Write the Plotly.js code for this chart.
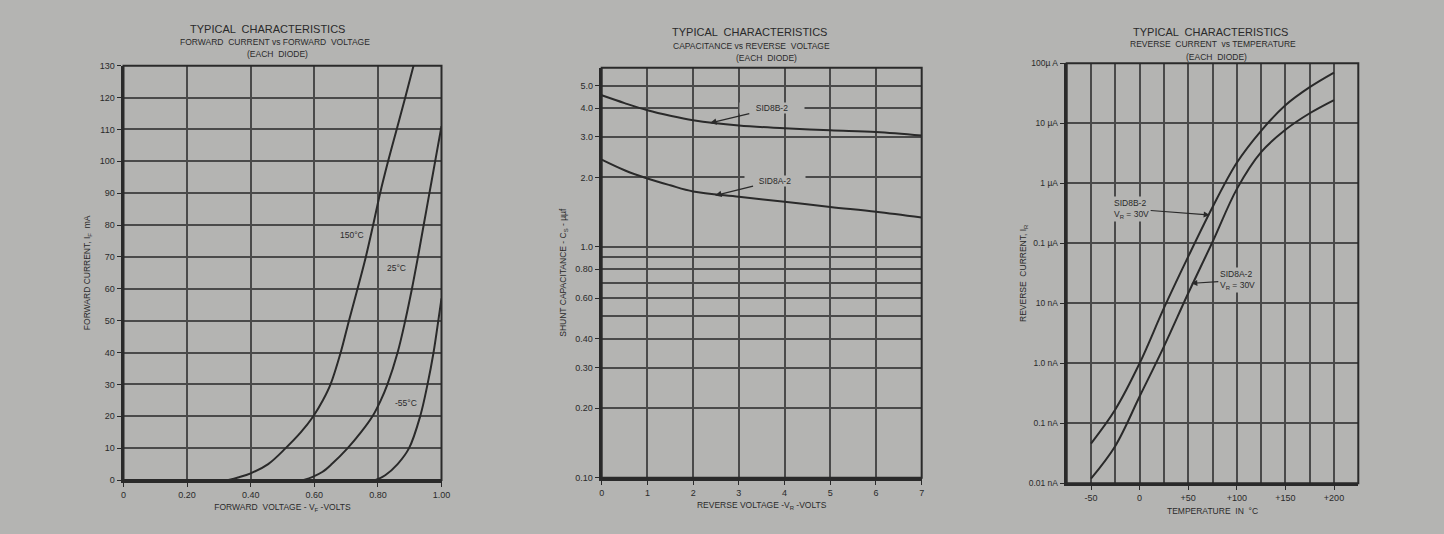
<!DOCTYPE html>
<html>
<head>
<meta charset="utf-8">
<script src="https://cdn.plot.ly/plotly-3.0.1.min.js"></script>
<style>html,body{margin:0;padding:0;background:#b4b4b2;}#chart{width:1444px;height:534px;}</style>
</head>
<body>
<div id="chart"></div>
<script>
// ---------- Panel 1: Forward current vs forward voltage ----------
const fwdV150 = [0.33, 0.36, 0.40, 0.455, 0.51, 0.558, 0.597, 0.627, 0.651, 0.683, 0.709, 0.736, 0.762, 0.785, 0.807, 0.832, 0.859, 0.886, 0.912];
const fwdI150 = [0, 0.8, 2.1, 5, 10, 15, 20, 25, 30, 40, 50, 60, 70, 80, 90, 100, 110, 120, 130];
const fwdV25 = [0.567, 0.595, 0.625, 0.655, 0.705, 0.747, 0.783, 0.809, 0.830, 0.862, 0.886, 0.907, 0.926, 0.944, 0.962, 0.980, 1.0];
const fwdI25 = [0, 1, 2.5, 5, 10, 15, 20, 25, 30, 40, 50, 60, 70, 80, 90, 100, 111];
const fwdVm55 = [0.793, 0.823, 0.862, 0.898, 0.933, 0.956, 0.975, 0.990, 1.0];
const fwdIm55 = [0, 1.5, 5, 10, 20, 30, 40, 50, 57];
const fwdXTicks = [0, 0.2, 0.4, 0.6, 0.8, 1.0];
const fwdXTickText = ['0', '0.20', '0.40', '0.60', '0.80', '1.00'];
const fwdYTicks = [0,10,20,30,40,50,60,70,80,90,100,110,120,130];

// ---------- Panel 2: Capacitance vs reverse voltage ----------
const capV = [0, 0.5, 1, 1.5, 2, 3, 4, 5, 6, 7];
const capB = [4.54, 4.2, 3.91, 3.7, 3.54, 3.36, 3.27, 3.20, 3.15, 3.04];
const capA = [2.39, 2.15, 1.98, 1.85, 1.74, 1.65, 1.57, 1.49, 1.42, 1.34];
const capYTicks = [0.1, 0.2, 0.3, 0.4, 0.6, 0.8, 1, 2, 3, 4, 5];
const capYTickText = ['0.10', '0.20', '0.30', '0.40', '0.60', '0.80', '1.0', '2.0', '3.0', '4.0', '5.0'];
const capYMinor = [0.5, 0.7, 0.9];

// ---------- Panel 3: Reverse current vs temperature (values in nA) ----------
const tempC = [-50, -25, 0, 25, 50, 75, 100, 125, 150, 175, 200];
const irB = [0.046, 0.17, 1.0, 8.3, 60, 400, 2200, 7500, 20000, 40000, 70000];
const irA = [0.012, 0.042, 0.28, 1.9, 14.7, 105, 800, 3300, 7800, 14700, 24400];
const irYTicks = [0.01, 0.1, 1, 10, 100, 1000, 10000, 100000];
const irYTickText = ['0.01 nA', '0.1 nA', '1.0 nA', '10 nA', '0.1 µA', '1 µA', '10 µA', '100µ A'];
const tempTicks = [-50, 0, 50, 100, 150, 200];
const tempTickText = ['-50', '0', '+50', '+100', '+150', '+200'];
const tempMinor = [-25, 25, 75, 125, 175];

const BG = '#b4b4b2';
const INK = '#2a2a2a';
const GRID = '#4a4a4a';
const FONT = 'Liberation Sans, Arial, sans-serif';

function curve(x, y, xa, ya, name) {
  return {x: x, y: y, xaxis: xa, yaxis: ya, name: name, mode: 'lines', type: 'scatter',
    line: {color: INK, width: 2, shape: 'spline', smoothing: 1}, hoverinfo: 'x+y', showlegend: false};
}

const data = [
  curve(fwdV150, fwdI150, 'x', 'y', '150°C'),
  curve(fwdV25, fwdI25, 'x', 'y', '25°C'),
  curve(fwdVm55, fwdIm55, 'x', 'y', '-55°C'),
  curve(capV, capB, 'x2', 'y2', 'SID8B-2'),
  curve(capV, capA, 'x2', 'y2', 'SID8A-2'),
  curve(tempC, irB, 'x3', 'y3', 'SID8B-2'),
  curve(tempC, irA, 'x3', 'y3', 'SID8A-2')
];

const W = 1444, H = 534;
function px(x) { return x / W; }
function py(y) { return 1 - y / H; }
const lg = Math.log10;

const tickFont = {family: FONT, size: 9, color: INK};
const titleFont = {family: FONT, size: 8.5, color: INK};

function baseAxis(extra) {
  return Object.assign({
    showgrid: true, gridcolor: GRID, gridwidth: 2,
    showline: true, linecolor: INK, linewidth: 3, mirror: false,
    ticks: 'outside', ticklen: 4, tickwidth: 1, tickcolor: INK,
    tickfont: tickFont, zeroline: false, fixedrange: true
  }, extra);
}

const layout = {
  width: W, height: H,
  margin: {l: 0, r: 0, t: 0, b: 0},
  paper_bgcolor: BG, plot_bgcolor: BG,
  font: {family: FONT, color: INK},
  showlegend: false,
  xaxis: baseAxis({domain: [px(123.5), px(441.5)], range: [0, 1.0], anchor: 'y',
    tickvals: fwdXTicks, ticktext: fwdXTickText,
    title: {text: 'FORWARD  VOLTAGE - V<sub>F</sub> -VOLTS', font: titleFont, standoff: 6}}),
  yaxis: baseAxis({domain: [py(480), py(65.7)], range: [0, 130], anchor: 'x',
    tickvals: fwdYTicks,
    title: {text: 'FORWARD CURRENT, I<sub>F</sub>  mA', font: titleFont, standoff: 8}}),
  xaxis2: baseAxis({domain: [px(601.7), px(921.7)], range: [0, 7], anchor: 'y2', dtick: 1, tick0: 0,
    title: {text: 'REVERSE VOLTAGE -V<sub>R</sub> -VOLTS', font: titleFont, standoff: 6}}),
  yaxis2: baseAxis({domain: [py(477.7), py(67.7)], type: 'log', range: [-1, lg(5.98)], anchor: 'x2',
    tickvals: capYTicks, ticktext: capYTickText,
    minor: {tickvals: capYMinor, showgrid: true, gridcolor: GRID, gridwidth: 2, ticklen: 0},
    title: {text: 'SHUNT CAPACITANCE - C<sub>S</sub> - µµf', font: titleFont, standoff: 8}}),
  xaxis3: baseAxis({domain: [px(1066.7), px(1358.3)], range: [-75, 225], anchor: 'y3',
    tickvals: tempTicks, ticktext: tempTickText,
    minor: {tickvals: tempMinor, showgrid: true, gridcolor: GRID, gridwidth: 2, ticklen: 0},
    title: {text: 'TEMPERATURE  IN  °C', font: titleFont, standoff: 6}}),
  yaxis3: baseAxis({domain: [py(483.3), py(63.3)], type: 'log', range: [-2, 5], anchor: 'x3',
    tickvals: irYTicks, ticktext: irYTickText, tickfont: {family: FONT, size: 8.5, color: INK},
    title: {text: 'REVERSE  CURRENT, I<sub>R</sub>', font: titleFont, standoff: 1}}),
  shapes: [
    {type: 'rect', xref: 'x domain', yref: 'y domain', x0: 0, x1: 1, y0: 0, y1: 1, line: {color: INK, width: 2}},
    {type: 'rect', xref: 'x2 domain', yref: 'y2 domain', x0: 0, x1: 1, y0: 0, y1: 1, line: {color: INK, width: 2}},
    {type: 'rect', xref: 'x3 domain', yref: 'y3 domain', x0: 0, x1: 1, y0: 0, y1: 1, line: {color: INK, width: 2}}
  ],
  annotations: []
};

function head(text, x, y, size) {
  layout.annotations.push({text: text, xref: 'paper', yref: 'paper', x: px(x), y: py(y),
    xanchor: 'center', yanchor: 'middle', showarrow: false, font: {family: FONT, size: size, color: INK}});
}
head('TYPICAL  CHARACTERISTICS', 267, 29.3, 11);
head('FORWARD  CURRENT vs FORWARD  VOLTAGE', 275, 41.7, 8.5);
head('(EACH  DIODE)', 277, 54.3, 8.5);
head('TYPICAL  CHARACTERISTICS', 749.5, 32.3, 11);
head('CAPACITANCE vs REVERSE  VOLTAGE', 751, 45.7, 8.5);
head('(EACH  DIODE)', 766.7, 57.7, 8.5);
head('TYPICAL  CHARACTERISTICS', 1210, 32.3, 11);
head('REVERSE  CURRENT  vs TEMPERATURE', 1213, 44, 8.5);
head('(EACH  DIODE)', 1216.7, 56.7, 8.5);

const lblFont = {family: FONT, size: 8.5, color: INK};
// Panel 1 temperature labels
layout.annotations.push(
  {text: '150°C', x: 0.719, y: 76.9, xref: 'x', yref: 'y', showarrow: false, font: lblFont},
  {text: '25°C', x: 0.86, y: 66.6, xref: 'x', yref: 'y', showarrow: false, font: lblFont},
  {text: '-55°C', x: 0.888, y: 24.2, xref: 'x', yref: 'y', showarrow: false, font: lblFont}
);
// Panel 2 labels: sit on a gridline with a gap, leader arrow to the curve (log axis -> log10 coords)
layout.annotations.push(
  {text: 'SID8B-2', x: 2.37, y: lg(3.44), xref: 'x2', yref: 'y2', showarrow: true, ax: 62, ay: -15,
    font: lblFont, bgcolor: BG, width: 64, borderpad: 0,
    arrowhead: 2, arrowsize: 1, arrowwidth: 1.3, arrowcolor: INK},
  {text: 'SID8A-2', x: 2.48, y: lg(1.67), xref: 'x2', yref: 'y2', showarrow: true, ax: 60, ay: -15,
    font: lblFont, bgcolor: BG, width: 60, borderpad: 0,
    arrowhead: 2, arrowsize: 1, arrowwidth: 1.3, arrowcolor: INK}
);
// Panel 3 labels (gridlines broken behind the text)
layout.annotations.push(
  {text: 'SID8B-2<br>V<sub>R</sub> = 30V', x: 72.1, y: lg(296), xref: 'x3', yref: 'y3', showarrow: true, ax: -78, ay: -6,
    align: 'left', font: lblFont, bgcolor: BG, borderpad: 1, arrowhead: 2, arrowsize: 1, arrowwidth: 1.2, arrowcolor: INK},
  {text: 'SID8A-2<br>V<sub>R</sub> = 30V', x: 53.2, y: lg(21.5), xref: 'x3', yref: 'y3', showarrow: true, ax: 46, ay: -3,
    align: 'left', font: lblFont, bgcolor: BG, borderpad: 1, arrowhead: 2, arrowsize: 1, arrowwidth: 1.2, arrowcolor: INK}
);

Plotly.newPlot('chart', data, layout, {displayModeBar: false, staticPlot: true});
</script>
</body>
</html>
